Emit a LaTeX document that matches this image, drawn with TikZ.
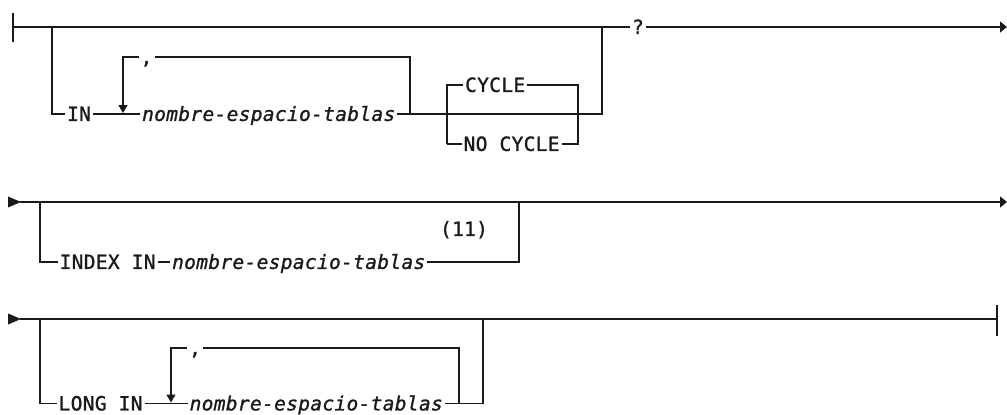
\documentclass[tikz,border=0pt]{standalone}
\usepackage{fontspec}
\setmonofont{DejaVu Sans Mono}[LetterSpace=1.7, FakeBold=1.2]
\usetikzlibrary{arrows.meta}
\definecolor{ink}{HTML}{1A1A1A}
\begin{document}
\begin{tikzpicture}[x=1pt,y=-1pt, line width=1.3pt, draw=ink,
  kw/.style={inner xsep=1.5pt, inner ysep=0pt, text height=13.8pt, text depth=0pt, anchor=west,
    font=\fontsize{19.5}{19.5}\selectfont\ttfamily, text=ink},
  var/.style={kw, font=\fontsize{19.5}{19.5}\selectfont\ttfamily\itshape},
  tip/.style={-{Triangle[length=7pt,width=11pt]}},
  dtip/.style={-{Triangle[length=8pt,width=9pt]}}]
\fill[white] (0,0) rectangle (1007,415);
\useasboundingbox (0,0) rectangle (1007,415);

% ---------- row 1 ----------
\draw (13,13) -- (13,42);
\coordinate (s1) at (13,27);
\coordinate (b1) at (52,27);
\coordinate (b1d) at (52,114);
\node[kw] (in1) at (65,114) {IN};
\node[var] (n1) at (140,114) {nombre-espacio-tablas};
\node[kw] (c1) at (138.5,57) {,};
\coordinate (l1r) at (410,114);
\coordinate (l1rt) at (410,57);
\coordinate (l1lt) at (123,57);
\coordinate (l1a) at (123,113);
\coordinate (j1) at (602,114);
\coordinate (j1t) at (602,27);
\coordinate (cy1) at (447,85);
\coordinate (cy2) at (447,144);
\coordinate (cy3) at (578,85);
\coordinate (cy4) at (578,144);
\node[kw] (cyc) at (463,85) {CYCLE};
\node[kw] (nocyc) at (461.5,144) {NO CYCLE};
\node[kw] (q) at (630,27) {?};
\coordinate (e1) at (1007,27);

\draw (s1) -- (j1t) -- (q.west);
\draw[tip] (q.east) -- (e1);
\draw (b1) -- (b1d) -- (in1.west);
\draw (in1.east) -- (n1.west);
\draw (n1.east) -- (j1) -- (j1t);
\draw (l1r) -- (l1rt) -- (c1.east);
\draw[dtip] (c1.west) -- (l1lt) -- (l1a);
\draw (cy2) -- (cy1) -- (cyc.west);
\draw (cyc.east) -- (cy3) -- (cy4) -- (nocyc.east);
\draw (nocyc.west) -- (cy2);

% ---------- row 2 ----------
\fill[ink] (8,196.5) -- (21,202) -- (8,207.5) -- cycle;
\coordinate (s2) at (20,202);
\coordinate (b2) at (40,202);
\coordinate (b2d) at (40,262);
\node[kw] (ix) at (57.5,262) {INDEX IN};
\node[var] (n2) at (170,262) {nombre-espacio-tablas};
\node[kw, anchor=center] (fn) at (464,229) {(11)};
\coordinate (j2) at (519,262);
\coordinate (j2t) at (519,202);
\coordinate (e2) at (1007,202);

\draw[tip] (s2) -- (e2);
\draw (b2) -- (b2d) -- (ix.west);
\draw (ix.east) -- (n2.west);
\draw (n2.east) -- (j2) -- (j2t);

% ---------- row 3 ----------
\fill[ink] (8,313.5) -- (21,319) -- (8,324.5) -- cycle;
\coordinate (s3) at (20,319);
\coordinate (b3) at (40,319);
\coordinate (b3d) at (40,403.5);
\node[kw] (li) at (56.5,403.5) {LONG IN};
\node[var] (n3) at (187.5,403.5) {nombre-espacio-tablas};
\node[kw] (c3) at (187,348) {,};
\coordinate (l3r) at (459,403.5);
\coordinate (l3rt) at (459,348);
\coordinate (l3lt) at (171,348);
\coordinate (l3a) at (171,402.5);
\coordinate (j3) at (483,403.5);
\coordinate (j3t) at (483,319);
\coordinate (e3) at (997,319);

\draw (s3) -- (e3);
\draw (997,305) -- (997,336);
\draw (b3) -- (b3d) -- (li.west);
\draw (li.east) -- (n3.west);
\draw (n3.east) -- (j3) -- (j3t);
\draw (l3r) -- (l3rt) -- (c3.east);
\draw[dtip] (c3.west) -- (l3lt) -- (l3a);
\end{tikzpicture}
\end{document}
